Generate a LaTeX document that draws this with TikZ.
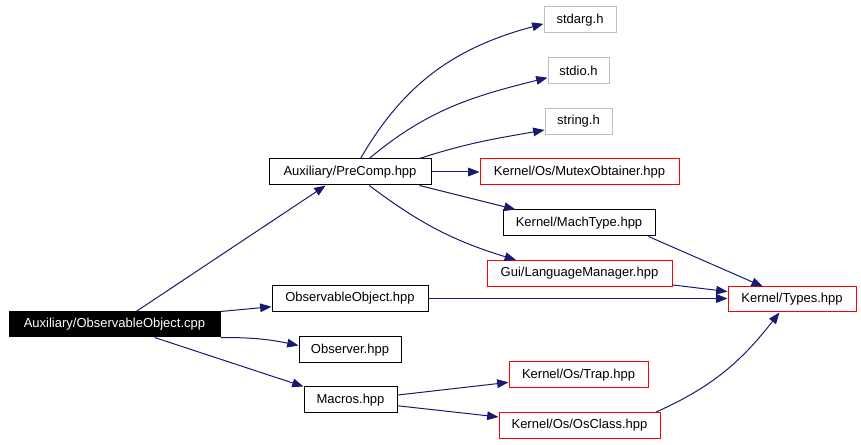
\documentclass[tikz,border=0pt]{standalone}
\usepackage{fontspec}
\setsansfont{Liberation Sans}
\usetikzlibrary{arrows.meta}
\definecolor{edgeblue}{RGB}{25,25,112}
\definecolor{sysgray}{RGB}{191,191,191}

\begin{document}
\begin{tikzpicture}[x=0.75pt,y=-0.75pt,
  file/.style={draw,line width=0.75pt,rectangle,minimum height=19.5pt,inner sep=0pt,
    font=\sffamily\fontsize{9.75}{11}\selectfont},
  rootfile/.style={file,draw=black,fill=black,text=white},
  localfile/.style={file,draw=black},
  missfile/.style={file,draw=red},
  sysfile/.style={file,draw=sysgray},
  dep/.style={draw=edgeblue,line width=0.75pt,-{Triangle[length=8.5pt,width=6.5pt]},fill=none}]
\useasboundingbox (0,0) rectangle (861,445);
\node[rootfile,minimum width=158.25pt,minimum height=18.75pt] (obscpp) at (114.5,324.5) {Auxiliary/ObservableObject.cpp};
\node[localfile,minimum width=121.5pt] (precomp) at (350,172) {Auxiliary/PreComp.hpp};
\node[localfile,minimum width=117pt] (obshpp) at (350,298.5) {ObservableObject.hpp};
\node[localfile,minimum width=76.5pt] (observer) at (350,350) {Observer.hpp};
\node[localfile,minimum width=69.75pt] (macros) at (350.5,400) {Macros.hpp};
\node[sysfile,minimum width=54pt] (stdarg) at (580,20) {stdarg.h};
\node[sysfile,minimum width=45.75pt] (stdio) at (578.5,70.5) {stdio.h};
\node[sysfile,minimum width=50.25pt] (string) at (578.5,121.5) {string.h};
\node[missfile,minimum width=149.25pt] (mutex) at (579.5,172) {Kernel/Os/MutexObtainer.hpp};
\node[localfile,minimum width=114pt] (machtype) at (579,223) {Kernel/MachType.hpp};
\node[missfile,minimum width=138.75pt] (langmgr) at (579.5,273.5) {Gui/LanguageManager.hpp};
\node[missfile,minimum width=104.25pt] (trap) at (578.5,375) {Kernel/Os/Trap.hpp};
\node[missfile,minimum width=120.75pt] (osclass) at (579.5,425.5) {Kernel/Os/OsClass.hpp};
\node[missfile,minimum width=96pt,minimum height=18.75pt] (types) at (792,299.5) {Kernel/Types.hpp};
\draw[dep] (obscpp.31.4) -- (precomp.209.5);
\draw[dep] (obscpp.north east) -- (obshpp.186.2);
\draw[dep] (obscpp.south east) to[bend left=6] (observer.175.5);
\draw[dep] (obscpp.-18) -- (macros.north west);
\draw[dep] (precomp.52.4) to[out=60,in=195] (stdarg.186.3);
\draw[dep] (precomp.35.8) to[out=40,in=194] (stdio.193.8);
\draw[dep] (precomp.11.8) to[out=18,in=190] (string.194.2);
\draw[dep] (precomp.east) -- (mutex.west);
\draw[dep] (precomp.-11.8) -- (machtype.168.9);
\draw[dep] (precomp.-35.8) to[out=-37,in=163] (langmgr.168.7);
\draw[dep] (machtype.-11.7) -- (types.156.7);
\draw[dep] (langmgr.-7.1) -- (types.173.3);
\draw[dep] (obshpp.east) -- (obshpp.east -| types.west);
\draw[dep] (osclass.10.4) to[out=24,in=232] (types.226.2);
\draw[dep] (macros.6.1) -- (trap.186.6);
\draw[dep] (macros.-7.4) -- (osclass.174.7);
\end{tikzpicture}
\end{document}
